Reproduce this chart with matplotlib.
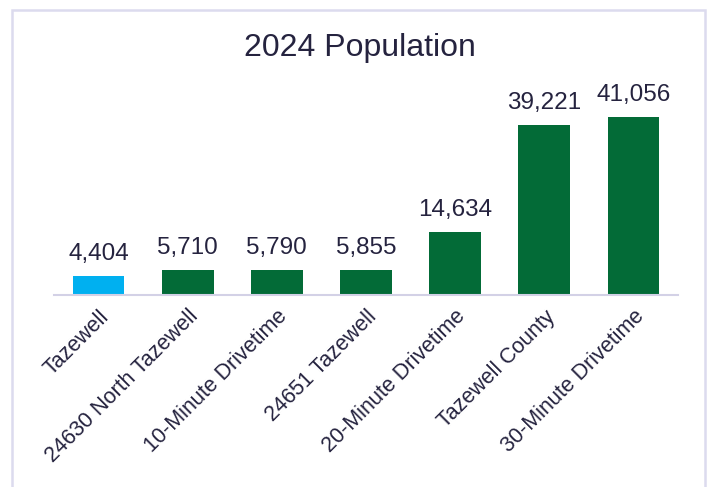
import matplotlib.pyplot as plt
from matplotlib.patches import Rectangle

plt.rcParams['font.family'] = ['Liberation Sans', 'DejaVu Sans']

# data
places = ["Tazewell", "24630 North Tazewell", "10-Minute Drivetime", "24651 Tazewell",
          "20-Minute Drivetime", "Tazewell County", "30-Minute Drivetime"]
population = [4404, 5710, 5790, 5855, 14634, 39221, 41056]
bar_colors = ["#00B0F0", "#036B37", "#036B37", "#036B37", "#036B37", "#036B37", "#036B37"]

text_color = "#25233F"

fig = plt.figure(figsize=(7.09, 4.87), dpi=100)
W, H = 709, 487

# light frame round the chart area
fig.patches.append(Rectangle((12 / W, -0.05), (705 - 12) / W, 1 - 10 / H + 0.05,
                             transform=fig.transFigure, fill=False,
                             edgecolor="#DCDBEE", linewidth=1.8))

ax = fig.add_axes([54 / W, 1 - 295 / H, (678 - 54) / W, 200 / H])
x = range(len(places))
bars = ax.bar(x, population, width=0.58, color=bar_colors)
ax.set_xlim(-0.5, len(places) - 0.5)
ax.set_ylim(0, 41056 * 200 / 178)

# value labels above bars
for b, v in zip(bars, population):
    ax.text(b.get_x() + b.get_width() / 2, v + 2500, f"{v:,}",
            ha="center", va="bottom", fontsize=17.5, color=text_color)

for s in ["top", "right", "left"]:
    ax.spines[s].set_visible(False)
ax.spines["bottom"].set_color("#D3D1E6")
ax.spines["bottom"].set_linewidth(1.5)
ax.set_yticks([])
ax.set_xticks(list(x))
ax.set_xticklabels(places, rotation=45, ha="right", rotation_mode="anchor",
                   fontsize=15.5, color=text_color)
ax.tick_params(axis="x", length=0, pad=8)

fig.text(360 / W, 1 - 48 / H, "2024 Population", ha="center", va="center",
         fontsize=23, color=text_color)

fig.savefig("out.png", dpi=100)
